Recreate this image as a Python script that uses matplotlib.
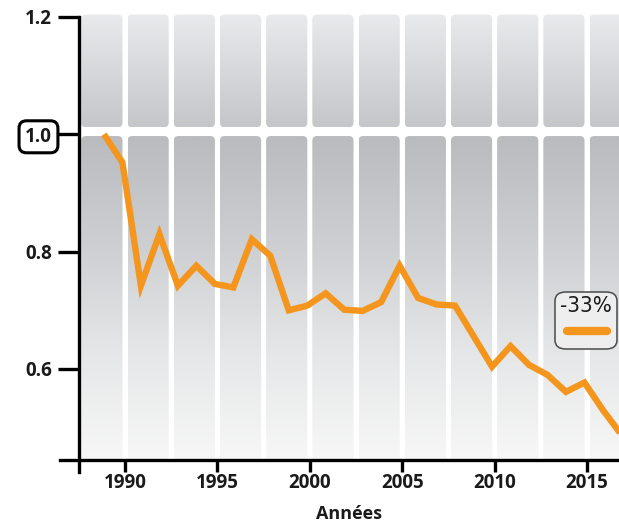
import numpy as np
import matplotlib
matplotlib.use("Agg")
import matplotlib.pyplot as plt
from matplotlib.patches import FancyBboxPatch
from matplotlib.colors import LinearSegmentedColormap
from matplotlib import font_manager

# ---- data ----
years = list(range(1989, 2018))
values = [1.000, 0.952, 0.742, 0.830, 0.742, 0.776, 0.745, 0.739, 0.821, 0.793,
          0.700, 0.708, 0.729, 0.701, 0.699, 0.714, 0.776, 0.721, 0.710, 0.708,
          0.656, 0.604, 0.639, 0.607, 0.590, 0.561, 0.577, 0.530, 0.488]
xtick_years = [1990, 1995, 2000, 2005, 2010, 2015]
ytick_values = [0.6, 0.8, 1.0, 1.2]
ytick_labels = ["0.6", "0.8", "1.0", "1.2"]
change_label = "-33%"
x_label = "Années"

ORANGE = "#F4961E"
TEXT = "#1a1a1a"

fonts = font_manager.fontManager.ttflist
available = {f.name for f in fonts}
main_font = "Open Sans" if "Open Sans" in available else "DejaVu Sans"
plt.rcParams["font.family"] = [main_font, "DejaVu Sans"]

# narrow face for the badge, if one is installed
badge_family, badge_stretch = main_font, "normal"
if "Liberation Sans Narrow" in available:
    badge_family = "Liberation Sans Narrow"
else:
    for f in fonts:
        if f.stretch in ("condensed", "semi-condensed") and f.name in (
                "DejaVu Sans", "Open Sans", "Noto Sans", "Roboto"):
            badge_family, badge_stretch = f.name, f.stretch
            break

fig = plt.figure(figsize=(6.19, 5.25), dpi=100)
ax = fig.add_axes([79 / 619, (525 - 460) / 525, 540 / 619, (460 - 14) / 525])

x_lo, x_hi = 1987.51, 2016.73
y_lo, y_hi = 0.4449, 1.205

# ---- striped, gradient background panels ----
upper_cmap = LinearSegmentedColormap.from_list("up", ["#c4c6c9", "#e9eaec"])
lower_cmap = LinearSegmentedColormap.from_list(
    "low", ["#f8f8f8", "#e6e7e8", "#cdcfd2", "#b9bbbf"])
grad = np.linspace(0, 1, 256).reshape(-1, 1)
col_w = 2.5
gap = 0.27
bands = [(1.012, 1.204, upper_cmap), (y_lo - 0.01, 0.997, lower_cmap)]
aspect = (1 / 586.7) / (1 / 18.48)
edges = np.arange(1987.5, 2018.0, col_w)
for left in edges:
    x0, x1 = left + gap / 2, left + col_w - gap / 2
    for y0, y1, cmap in bands:
        clip = FancyBboxPatch((x0, y0), x1 - x0, y1 - y0,
                              boxstyle="round,pad=0,rounding_size=0.25",
                              mutation_aspect=aspect,
                              transform=ax.transData, fc="none", ec="none")
        im = ax.imshow(grad, extent=[x0, x1, y0, y1], cmap=cmap,
                       origin="lower", aspect="auto", zorder=0,
                       interpolation="bilinear")
        im.set_clip_path(clip)

# ---- data line ----
xs = np.array(years) - 0.14
ax.plot(xs, values, color=ORANGE, lw=4.6, solid_joinstyle="miter",
        solid_capstyle="butt", zorder=3)

ax.set_xlim(x_lo, x_hi)
ax.set_ylim(y_lo, y_hi)

# ---- axes styling ----
for s in ["top", "right"]:
    ax.spines[s].set_visible(False)
ax.spines["left"].set_linewidth(2.4)
ax.spines["bottom"].set_linewidth(2.4)
ax.spines["left"].set_bounds(0.4245, 1.2)
ax.spines["bottom"].set_bounds(1986.48, x_hi)
ax.spines["left"].set_zorder(5)
ax.spines["bottom"].set_zorder(5)

ax.set_xticks(xtick_years)
ax.set_xticklabels([str(y) for y in xtick_years])
ax.set_yticks(ytick_values)
ax.set_yticklabels(ytick_labels)
ax.tick_params(axis="y", length=15, width=2.4, pad=4.5, labelsize=13.5,
               labelcolor=TEXT)
ax.tick_params(axis="x", length=8.5, width=2.4, pad=0.5, labelsize=13.5,
               labelcolor=TEXT)
for lab in ax.get_xticklabels() + ax.get_yticklabels():
    lab.set_fontweight("bold")

for lab, v in zip(ax.get_yticklabels(), ytick_values):
    if abs(v - 1.0) < 1e-9:
        lab.set_bbox(dict(boxstyle="round,pad=0.32,rounding_size=0.4",
                          fc="white", ec="black", lw=2.2))

ax.set_xlabel(x_label, fontsize=13, fontweight="bold", color=TEXT,
              labelpad=9)

# ---- change badge ----
bx0, bx1 = (555 - 79) / 540, (617 - 79) / 540
by0, by1 = (460 - 349) / 446, (460 - 292) / 446
badge = FancyBboxPatch((bx0, by0), bx1 - bx0, by1 - by0,
                       boxstyle="round,pad=0,rounding_size=0.02",
                       transform=ax.transAxes, fc="#eeeeee", ec="#4a4a4a",
                       lw=1.1, zorder=6, clip_on=False)
ax.add_patch(badge)
badge_size = 18 if badge_family == "Liberation Sans Narrow" else 16
ax.text((bx0 + bx1) / 2, (460 - 306) / 446, change_label,
        transform=ax.transAxes, ha="center", va="center",
        fontsize=badge_size, family=[badge_family, "DejaVu Sans"],
        fontstretch=badge_stretch, color=TEXT, zorder=7)
ax.plot([(567 - 79) / 540, (607 - 79) / 540],
        [(460 - 331) / 446] * 2, transform=ax.transAxes,
        color=ORANGE, lw=6, solid_capstyle="round", zorder=7, clip_on=False)

fig.savefig("out.png", dpi=100, facecolor="white")
